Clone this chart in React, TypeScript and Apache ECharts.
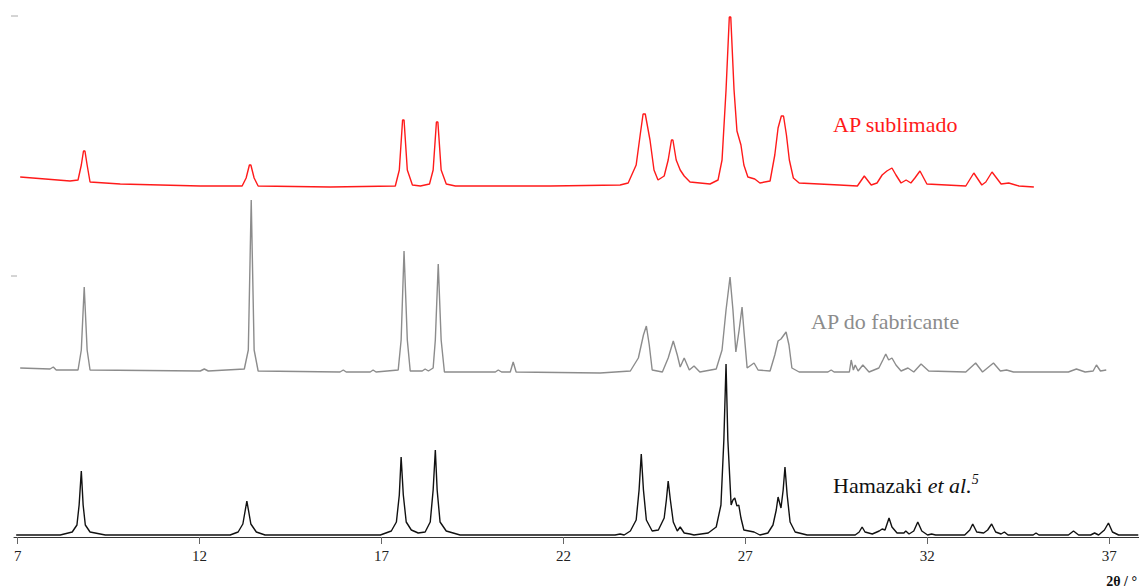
import React, { useEffect, useRef } from "react";
import * as echarts from "echarts";

// 2θ (degrees) and relative intensity (arbitrary units, stacked offsets included)
const redX = [7.07, 7.76, 8.44, 8.66, 8.75, 8.81, 8.85, 8.91, 8.99, 9.82, 12.02, 13.17, 13.28, 13.37, 13.41, 13.5, 13.61, 15.59, 17.38, 17.49, 17.58, 17.62, 17.71, 17.85, 18.07, 18.32, 18.42, 18.51, 18.55, 18.64, 18.78, 19.03, 21.64, 23.56, 23.78, 24.0, 24.11, 24.19, 24.25, 24.38, 24.49, 24.6, 24.77, 24.88, 24.97, 25.01, 25.1, 25.21, 25.32, 25.48, 26.03, 26.25, 26.36, 26.47, 26.56, 26.6, 26.69, 26.77, 26.88, 26.96, 27.07, 27.26, 27.4, 27.68, 27.81, 27.9, 27.99, 28.05, 28.13, 28.21, 28.32, 28.48, 29.58, 30.08, 30.27, 30.46, 30.62, 30.76, 30.89, 31.03, 31.14, 31.28, 31.42, 31.55, 31.66, 31.8, 31.99, 33.06, 33.28, 33.5, 33.61, 33.78, 34.03, 34.24, 34.52, 34.93];
const redY = [360, 358, 356, 357, 372, 386, 386, 372, 355, 353, 351, 351, 359, 372, 372, 359, 351, 350, 351, 367, 417, 417, 367, 352, 351, 353, 367, 415, 415, 367, 353, 351, 351, 352, 354, 372, 402, 423, 423, 397, 367, 357, 361, 377, 397, 397, 377, 367, 361, 355, 353, 357, 377, 447, 520, 520, 447, 406, 392, 372, 360, 358, 354, 356, 382, 409, 421, 421, 402, 377, 359, 354, 352, 351, 361, 352, 354, 362, 366, 369, 362, 354, 357, 354, 359, 366, 353, 351, 364, 352, 355, 365, 353, 354, 351, 350];

const grayX = [7.07, 7.89, 7.98, 8.06, 8.66, 8.75, 8.83, 8.91, 8.99, 12.02, 12.13, 12.24, 13.23, 13.34, 13.42, 13.5, 13.61, 15.86, 15.95, 16.03, 16.69, 16.77, 16.85, 17.46, 17.54, 17.62, 17.71, 17.79, 18.12, 18.2, 18.29, 18.42, 18.48, 18.56, 18.64, 18.73, 20.13, 20.21, 20.3, 20.54, 20.62, 20.7, 23.01, 23.84, 24.06, 24.2, 24.28, 24.36, 24.44, 24.72, 24.88, 25.02, 25.13, 25.21, 25.32, 25.46, 25.59, 25.75, 26.2, 26.36, 26.47, 26.58, 26.66, 26.74, 26.83, 26.91, 26.96, 27.05, 27.24, 27.35, 27.68, 27.81, 27.9, 27.98, 28.12, 28.2, 28.28, 28.48, 29.27, 29.36, 29.44, 29.86, 29.91, 29.97, 30.02, 30.1, 30.23, 30.4, 30.67, 30.78, 30.86, 30.94, 31.03, 31.14, 31.28, 31.47, 31.63, 31.83, 32.04, 33.06, 33.33, 33.52, 33.82, 34.01, 34.18, 34.37, 35.88, 36.1, 36.34, 36.56, 36.65, 36.76, 36.92];
const grayY = [169, 168, 170, 167, 167, 187, 250, 187, 167, 166, 168, 166, 168, 187, 337, 187, 166, 165, 167, 165, 165, 167, 165, 167, 197, 286, 197, 166, 166, 168, 166, 169, 197, 273, 197, 165, 165, 167, 165, 165, 175, 165, 164, 166, 179, 202, 211, 192, 167, 165, 179, 196, 182, 170, 179, 167, 171, 165, 168, 187, 227, 260, 227, 185, 207, 230, 207, 169, 174, 167, 166, 182, 196, 198, 205, 192, 169, 165, 165, 167, 165, 165, 177, 167, 172, 166, 172, 165, 169, 177, 183, 177, 179, 172, 166, 169, 165, 173, 166, 165, 174, 165, 174, 166, 167, 165, 165, 168, 165, 166, 172, 166, 167];

const blackX = [6.96, 8.17, 8.5, 8.63, 8.69, 8.75, 8.8, 8.86, 8.99, 9.41, 12.84, 13.06, 13.19, 13.3, 13.41, 13.56, 13.8, 16.97, 17.27, 17.41, 17.49, 17.54, 17.6, 17.68, 17.82, 18.01, 18.2, 18.34, 18.42, 18.48, 18.53, 18.61, 18.78, 19.16, 23.42, 23.56, 23.67, 23.84, 24.0, 24.08, 24.14, 24.2, 24.28, 24.44, 24.61, 24.77, 24.83, 24.88, 24.94, 25.02, 25.13, 25.21, 25.32, 25.48, 25.59, 25.98, 26.2, 26.33, 26.41, 26.47, 26.52, 26.61, 26.66, 26.71, 26.77, 26.82, 26.88, 26.96, 27.24, 27.4, 27.62, 27.76, 27.85, 27.9, 27.98, 28.04, 28.09, 28.15, 28.23, 28.37, 28.7, 30.02, 30.13, 30.21, 30.29, 30.49, 30.68, 30.76, 30.84, 30.95, 31.03, 31.17, 31.36, 31.41, 31.5, 31.63, 31.74, 31.85, 32.01, 32.12, 32.23, 33.03, 33.17, 33.25, 33.36, 33.55, 33.66, 33.77, 33.88, 34.03, 34.12, 34.22, 34.91, 34.99, 35.07, 35.88, 36.02, 36.16, 36.49, 36.6, 36.71, 36.87, 36.98, 37.09, 37.26, 37.8];
const blackY = [2, 2, 5, 12, 32, 66, 32, 12, 5, 2, 2, 5, 13, 36, 13, 5, 2, 2, 6, 15, 42, 80, 42, 15, 7, 4, 5, 15, 47, 87, 47, 15, 6, 2, 2, 3, 2, 6, 17, 47, 83, 47, 17, 6, 7, 19, 37, 56, 37, 15, 6, 10, 4, 3, 2, 4, 10, 32, 97, 173, 97, 32, 37, 39, 31, 32, 19, 7, 5, 2, 4, 12, 27, 40, 29, 47, 70, 42, 15, 5, 2, 2, 5, 10, 5, 3, 6, 8, 7, 19, 10, 4, 4, 6, 3, 6, 15, 6, 2, 3, 2, 2, 7, 13, 5, 4, 7, 13, 5, 3, 5, 2, 2, 4, 2, 2, 6, 2, 2, 4, 2, 7, 14, 5, 2, 2];

const tickValues = [7, 12, 17, 22, 27, 32, 37];

const seriesNames = ["AP sublimado", "AP do fabricante", "Hamazaki et al."];

const zip = (xs: number[], ys: number[]) => xs.map((x, i) => [x, ys[i]]);

export default function App() {
  const ref = useRef<HTMLDivElement>(null);
  useEffect(() => {
    if (!ref.current) return;
    const chart = echarts.init(ref.current, undefined, { renderer: "svg" });
    const serif = "'Liberation Serif', 'DejaVu Serif', serif";
    chart.setOption({
      animation: false,
      backgroundColor: "#ffffff",
      grid: { left: 14, right: 0, top: 0, bottom: 51, containLabel: false },
      xAxis: {
        type: "value",
        min: 6.9,
        max: 37.82,
        axisLine: { show: true, lineStyle: { color: "#333333", width: 1 } },
        axisTick: {
          show: true,
          customValues: tickValues,
          length: 7,
          inside: false,
          lineStyle: { color: "#666666", width: 1 },
        },
        axisLabel: {
          customValues: tickValues,
          margin: 11,
          color: "#222222",
          fontSize: 15,
          fontFamily: serif,
        },
        splitLine: { show: false },
      },
      yAxis: {
        type: "value",
        min: 0,
        max: 537,
        show: false,
        splitLine: { show: false },
      },
      series: [
        {
          name: seriesNames[0],
          type: "line",
          data: zip(redX, redY),
          showSymbol: false,
          smooth: false,
          lineStyle: { color: "#ff1a1a", width: 1.4 },
          z: 3,
        },
        {
          name: seriesNames[1],
          type: "line",
          data: zip(grayX, grayY),
          showSymbol: false,
          smooth: false,
          lineStyle: { color: "#8c8c8c", width: 1.4 },
          z: 3,
        },
        {
          name: seriesNames[2],
          type: "line",
          data: zip(blackX, blackY),
          showSymbol: false,
          smooth: false,
          lineStyle: { color: "#111111", width: 1.4 },
          z: 3,
        },
      ],
      graphic: [
        {
          type: "text",
          left: 833,
          top: 113,
          style: { text: "AP sublimado", fill: "#ff1a1a", font: `22px ${serif}` },
        },
        {
          type: "text",
          left: 811,
          top: 310,
          style: { text: "AP do fabricante", fill: "#8c8c8c", font: `22px ${serif}` },
        },
        {
          type: "text",
          left: 833,
          top: 472,
          style: {
            text: "{a|Hamazaki }{i|et al.}{s|5}",
            rich: {
              a: { fontSize: 22, fontFamily: serif, fill: "#111111", verticalAlign: "bottom" },
              i: { fontSize: 22, fontFamily: serif, fontStyle: "italic", fill: "#111111", verticalAlign: "bottom" },
              s: { fontSize: 14, fontFamily: serif, fontStyle: "italic", fill: "#111111", padding: [0, 0, 10, 0], verticalAlign: "bottom" },
            },
          },
        },
        {
          type: "text",
          right: 2,
          top: 574,
          style: { text: "2θ / °", fill: "#111111", font: `bold 14px ${serif}` },
        },
        { type: "line", shape: { x1: 11, y1: 16, x2: 18, y2: 16 }, style: { stroke: "#aaaaaa", lineWidth: 1 } },
        { type: "line", shape: { x1: 11, y1: 276, x2: 17, y2: 276 }, style: { stroke: "#aaaaaa", lineWidth: 1 } },
      ],
    });
    return () => chart.dispose();
  }, []);
  return (
    <div
      ref={ref}
      style={{ position: "fixed", left: 0, top: 0, width: 1139, height: 588, background: "#fff" }}
    />
  );
}
